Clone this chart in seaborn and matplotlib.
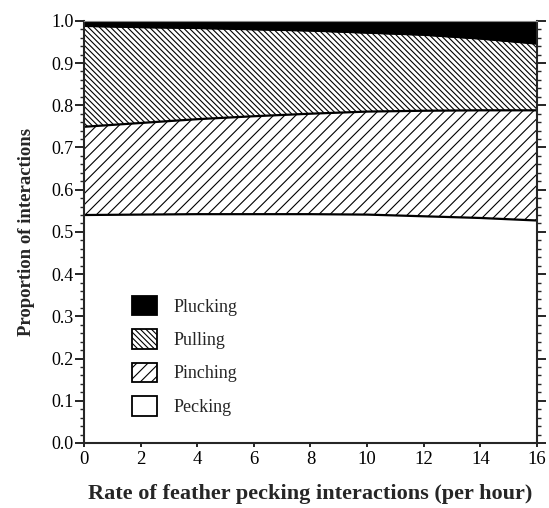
import matplotlib
matplotlib.use("Agg")
import matplotlib.pyplot as plt
from matplotlib.patches import Patch
from matplotlib.ticker import AutoMinorLocator, FormatStrFormatter, MultipleLocator
import numpy as np
import pandas as pd
import seaborn as sns

# Data (proportions of each interaction type at each feather-pecking rate)
rate = [0, 2, 4, 6, 8, 10, 12, 14, 16]
pecking = [0.540, 0.541, 0.542, 0.542, 0.542, 0.541, 0.537, 0.533, 0.527]
pinching = [0.209, 0.217, 0.225, 0.232, 0.238, 0.244, 0.250, 0.255, 0.261]
pulling = [0.238, 0.226, 0.215, 0.205, 0.196, 0.186, 0.179, 0.169, 0.157]
plucking = [0.013, 0.016, 0.018, 0.021, 0.024, 0.029, 0.034, 0.043, 0.055]
categories = ["Plucking", "Pulling", "Pinching", "Pecking"]
xticks = [0, 2, 4, 6, 8, 10, 12, 14, 16]

sns.set_style("ticks")
plt.rcParams["font.family"] = ["Liberation Serif", "DejaVu Serif"]
plt.rcParams["hatch.linewidth"] = 0.8

HATCH_PULL = "\\" * 6
HATCH_PINCH = "///"

df = pd.DataFrame({"rate": rate, "Pecking": pecking, "Pinching": pinching,
                   "Pulling": pulling, "Plucking": plucking})
df["b1"] = df["Pecking"]
df["b2"] = df["b1"] + df["Pinching"]
df["b3"] = df["b2"] + df["Pulling"]
df["b4"] = df["b3"] + df["Plucking"]

fig = plt.figure(figsize=(5.49, 5.08), dpi=100)
ax = fig.add_axes([0.153, 0.128, 0.825, 0.831])

ax.fill_between(df["rate"], 0, df["b1"], facecolor="white", edgecolor="black", linewidth=0)
ax.fill_between(df["rate"], df["b1"], df["b2"], facecolor="white", edgecolor="black",
                hatch=HATCH_PINCH, linewidth=0)
ax.fill_between(df["rate"], df["b2"], df["b3"], facecolor="white", edgecolor="black",
                hatch=HATCH_PULL, linewidth=0)
ax.fill_between(df["rate"], df["b3"], df["b4"], facecolor="black", edgecolor="black", linewidth=0)

for col, lw in [("b1", 1.6), ("b2", 1.6), ("b3", 1.0)]:
    sns.lineplot(data=df, x="rate", y=col, ax=ax, color="black", linewidth=lw)

ax.set_xlim(0, 16)
ax.set_ylim(0, 1.0)
ax.set_xticks(xticks)
ax.set_xticklabels([str(t) for t in xticks])
ax.yaxis.set_major_locator(MultipleLocator(0.1))
ax.yaxis.set_major_formatter(FormatStrFormatter("%.1f"))
ax.yaxis.set_minor_locator(AutoMinorLocator(5))

for s in ["left", "bottom", "right"]:
    ax.spines[s].set_linewidth(1.5)
ax.spines["top"].set_linewidth(0.8)
ax.spines["top"].set_color("#888888")

ax.tick_params(axis="y", which="major", direction="out", length=6.5, width=1.2,
               labelsize=13, pad=1, colors="black", left=True, right=True)
ax.tick_params(axis="y", which="minor", direction="out", length=3, width=1.0,
               left=True, right=True)
ax.tick_params(axis="x", which="major", direction="out", length=3, width=1.2,
               labelsize=13.5, pad=3, colors="black", top=False)

ax.set_xlabel("Rate of feather pecking interactions (per hour)", fontsize=16,
              fontweight="bold", labelpad=11)
ax.set_ylabel("Proportion of interactions", fontsize=13.5, fontweight="bold", labelpad=12)

handles = [
    Patch(facecolor="black", edgecolor="black", linewidth=1.3),
    Patch(facecolor="white", edgecolor="black", hatch=HATCH_PULL, linewidth=1.3),
    Patch(facecolor="white", edgecolor="black", hatch=HATCH_PINCH, linewidth=1.3),
    Patch(facecolor="white", edgecolor="black", linewidth=1.3),
]
ax.legend(handles, categories, loc="lower left", bbox_to_anchor=(0.075, 0.03),
          frameon=False, fontsize=13, handlelength=1.35, handleheight=1.3,
          labelspacing=0.75, handletextpad=0.95, borderpad=0.3)

fig.savefig("out.png", dpi=100)
